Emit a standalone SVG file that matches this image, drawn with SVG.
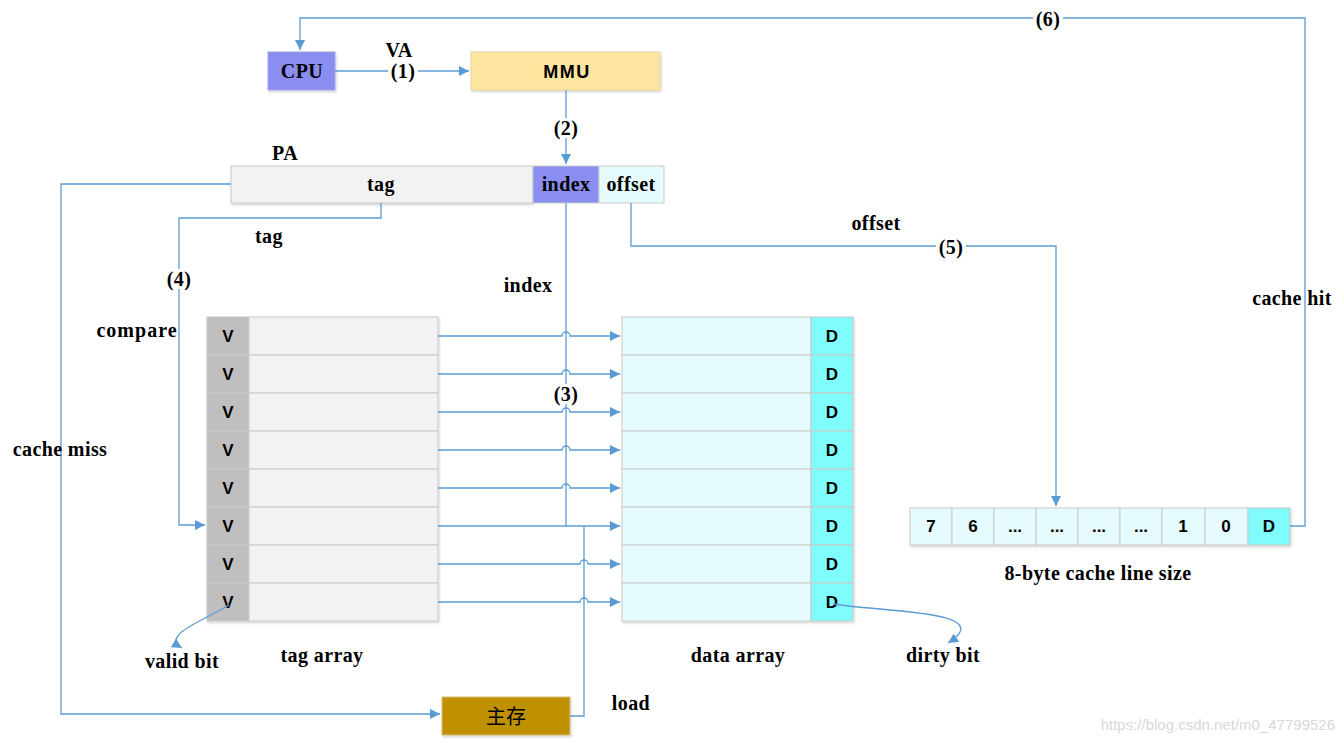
<svg xmlns="http://www.w3.org/2000/svg" width="1344" height="743" viewBox="0 0 1344 743">
<defs>
<marker id="ah" markerUnits="userSpaceOnUse" markerWidth="12" markerHeight="10" refX="10" refY="5" orient="auto">
<path d="M0,0 L10,5 L0,10 Z" fill="#5b9bd5"/>
</marker>
<filter id="sh" x="-5%" y="-5%" width="115%" height="130%">
<feDropShadow dx="1" dy="1.5" stdDeviation="1" flood-color="#000" flood-opacity="0.18"/>
</filter>
</defs>
<style>
.ln{fill:none;stroke:#5b9bd5;stroke-width:1.3}
.lbl{font-family:"Liberation Serif",serif;font-weight:bold;font-size:20px;letter-spacing:0.4px;fill:#000;text-anchor:middle}
.sans{font-family:"Liberation Sans",Arial,sans-serif;font-weight:bold;font-size:17px;fill:#000;text-anchor:middle}
.cell{stroke:#c9c9c9;stroke-width:1}
.v{fill:#bfbfbf}
.tg{fill:#f2f2f2}
.dt{fill:#e6fbfd}
.d{fill:#80fcfc}
.bg{fill:#fff}
</style>
<rect width="1344" height="743" fill="#fff"/>

<g id="cpu">
<rect x="268" y="52" width="67" height="38" fill="#8a8ef0" stroke="#a0a4e8" filter="url(#sh)"/>
<text class="lbl" x="302" y="78">CPU</text>
</g>
<g id="mmu">
<rect x="471" y="52" width="189" height="38" fill="#fde5a0" stroke="#e8d79c" filter="url(#sh)"/>
<text class="sans" x="567" y="78" style="font-size:18px;letter-spacing:1.5px">MMU</text>
</g>

<g id="pa">
<rect class="cell tg" x="231" y="166" width="302" height="37" filter="url(#sh)"/>
<rect class="cell" x="533" y="166" width="66" height="37" fill="#8a8ef0"/>
<rect class="cell dt" x="599" y="166" width="65" height="37"/>
<text class="lbl" x="381" y="191">tag</text>
<text class="lbl" x="566" y="191">index</text>
<text class="lbl" x="631" y="191">offset</text>
</g>

<g id="tag-array" filter="url(#sh)">
<rect class="cell v" x="207" y="317" width="42" height="38"/><rect class="cell tg" x="249" y="317" width="189" height="38"/>
<rect class="cell v" x="207" y="355" width="42" height="38"/><rect class="cell tg" x="249" y="355" width="189" height="38"/>
<rect class="cell v" x="207" y="393" width="42" height="38"/><rect class="cell tg" x="249" y="393" width="189" height="38"/>
<rect class="cell v" x="207" y="431" width="42" height="38"/><rect class="cell tg" x="249" y="431" width="189" height="38"/>
<rect class="cell v" x="207" y="469" width="42" height="38"/><rect class="cell tg" x="249" y="469" width="189" height="38"/>
<rect class="cell v" x="207" y="507" width="42" height="38"/><rect class="cell tg" x="249" y="507" width="189" height="38"/>
<rect class="cell v" x="207" y="545" width="42" height="38"/><rect class="cell tg" x="249" y="545" width="189" height="38"/>
<rect class="cell v" x="207" y="583" width="42" height="38"/><rect class="cell tg" x="249" y="583" width="189" height="38"/>
</g>
<g id="tag-array-text">
<text class="sans" x="228" y="342">V</text>
<text class="sans" x="228" y="380">V</text>
<text class="sans" x="228" y="418">V</text>
<text class="sans" x="228" y="456">V</text>
<text class="sans" x="228" y="494">V</text>
<text class="sans" x="228" y="532">V</text>
<text class="sans" x="228" y="570">V</text>
<text class="sans" x="228" y="608">V</text>
</g>

<g id="data-array" filter="url(#sh)">
<rect class="cell dt" x="622" y="317" width="189" height="38"/><rect class="cell d" x="811" y="317" width="42" height="38"/>
<rect class="cell dt" x="622" y="355" width="189" height="38"/><rect class="cell d" x="811" y="355" width="42" height="38"/>
<rect class="cell dt" x="622" y="393" width="189" height="38"/><rect class="cell d" x="811" y="393" width="42" height="38"/>
<rect class="cell dt" x="622" y="431" width="189" height="38"/><rect class="cell d" x="811" y="431" width="42" height="38"/>
<rect class="cell dt" x="622" y="469" width="189" height="38"/><rect class="cell d" x="811" y="469" width="42" height="38"/>
<rect class="cell dt" x="622" y="507" width="189" height="38"/><rect class="cell d" x="811" y="507" width="42" height="38"/>
<rect class="cell dt" x="622" y="545" width="189" height="38"/><rect class="cell d" x="811" y="545" width="42" height="38"/>
<rect class="cell dt" x="622" y="583" width="189" height="38"/><rect class="cell d" x="811" y="583" width="42" height="38"/>
</g>
<g id="data-array-text">
<text class="sans" x="832" y="342">D</text>
<text class="sans" x="832" y="380">D</text>
<text class="sans" x="832" y="418">D</text>
<text class="sans" x="832" y="456">D</text>
<text class="sans" x="832" y="494">D</text>
<text class="sans" x="832" y="532">D</text>
<text class="sans" x="832" y="570">D</text>
<text class="sans" x="832" y="608">D</text>
</g>

<g id="cache-line">
<g filter="url(#sh)">
<rect class="cell dt" x="910" y="508" width="42" height="37"/>
<rect class="cell dt" x="952" y="508" width="42" height="37"/>
<rect class="cell dt" x="994" y="508" width="42" height="37"/>
<rect class="cell dt" x="1036" y="508" width="42" height="37"/>
<rect class="cell dt" x="1078" y="508" width="42" height="37"/>
<rect class="cell dt" x="1120" y="508" width="42" height="37"/>
<rect class="cell dt" x="1162" y="508" width="43" height="37"/>
<rect class="cell dt" x="1205" y="508" width="43" height="37"/>
<rect class="cell d" x="1248" y="508" width="42" height="37"/>
</g>
<text class="sans" x="931" y="532">7</text>
<text class="sans" x="973" y="532">6</text>
<text class="sans" x="1015" y="532">...</text>
<text class="sans" x="1057" y="532">...</text>
<text class="sans" x="1099" y="532">...</text>
<text class="sans" x="1141" y="532">...</text>
<text class="sans" x="1183" y="532">1</text>
<text class="sans" x="1226" y="532">0</text>
<text class="sans" x="1269" y="532">D</text>
</g>

<g id="main-memory">
<rect x="442" y="697" width="128" height="38" fill="#bf9000" stroke="#d8c080" filter="url(#sh)"/>
<text x="506" y="724" font-family="'Noto Sans CJK SC',sans-serif" font-size="20" text-anchor="middle" fill="#000">主存</text>
</g>

<g id="connectors">
<path class="ln" d="M335,71 H469" marker-end="url(#ah)"/>
<path class="ln" d="M566,90 V164" marker-end="url(#ah)"/>
<path class="ln" d="M231,184 H61 V714 H440" marker-end="url(#ah)"/>
<path class="ln" d="M381,203 V218 H179 V525 H205" marker-end="url(#ah)"/>
<path class="ln" d="M566,203 V526"/>
<path class="ln" d="M631,203 V246 H1056 V506" marker-end="url(#ah)"/>
<path class="ln" d="M1290,526 H1305 V18 H300 V50" marker-end="url(#ah)"/>
<path class="ln" d="M570,716 H584 V526"/>
<path class="ln" d="M438,336 H562 a4,4 0 0 1 8,0 H620" marker-end="url(#ah)"/>
<path class="ln" d="M438,374 H562 a4,4 0 0 1 8,0 H620" marker-end="url(#ah)"/>
<path class="ln" d="M438,412 H562 a4,4 0 0 1 8,0 H620" marker-end="url(#ah)"/>
<path class="ln" d="M438,450 H562 a4,4 0 0 1 8,0 H620" marker-end="url(#ah)"/>
<path class="ln" d="M438,488 H562 a4,4 0 0 1 8,0 H620" marker-end="url(#ah)"/>
<path class="ln" d="M438,526 H620" marker-end="url(#ah)"/>
<path class="ln" d="M438,564 H580 a4,4 0 0 1 8,0 H620" marker-end="url(#ah)"/>
<path class="ln" d="M438,602 H580 a4,4 0 0 1 8,0 H620" marker-end="url(#ah)"/>
<path class="ln" d="M229,605 C205,620 160,635 182,648" marker-end="url(#ah)"/>
<path class="ln" d="M833,604 C880,612 1000,610 948,643" marker-end="url(#ah)"/>
</g>

<g id="labels">
<text class="lbl" x="399" y="57">VA</text>
<rect class="bg" x="388" y="62" width="30" height="20"/>
<text class="lbl" x="403" y="78">(1)</text>
<rect class="bg" x="551" y="118" width="30" height="20"/>
<text class="lbl" x="566" y="135">(2)</text>
<text class="lbl" x="285" y="160">PA</text>
<text class="lbl" x="269" y="243">tag</text>
<rect class="bg" x="164" y="269" width="30" height="20"/>
<text class="lbl" x="179" y="286">(4)</text>
<text class="lbl" x="137" y="337" style="letter-spacing:1px">compare</text>
<text class="lbl" x="528" y="292">index</text>
<rect class="bg" x="551" y="384" width="30" height="20"/>
<text class="lbl" x="566" y="401">(3)</text>
<text class="lbl" x="876" y="230">offset</text>
<rect class="bg" x="936" y="237" width="30" height="20"/>
<text class="lbl" x="951" y="254">(5)</text>
<rect class="bg" x="1033" y="9" width="30" height="20"/>
<text class="lbl" x="1048" y="26">(6)</text>
<text class="lbl" x="1292" y="305">cache hit</text>
<text class="lbl" x="60" y="456">cache miss</text>
<text class="lbl" x="1098" y="580">8-byte cache line size</text>
<text class="lbl" x="182" y="668">valid bit</text>
<text class="lbl" x="322" y="662">tag array</text>
<text class="lbl" x="738" y="662">data array</text>
<text class="lbl" x="943" y="662">dirty bit</text>
<text class="lbl" x="631" y="710">load</text>
<text x="1335" y="730" font-family="'Liberation Sans',Arial,sans-serif" font-size="15" fill="#d8d8d8" text-anchor="end">https://blog.csdn.net/m0_47799526</text>
</g>
</svg>
